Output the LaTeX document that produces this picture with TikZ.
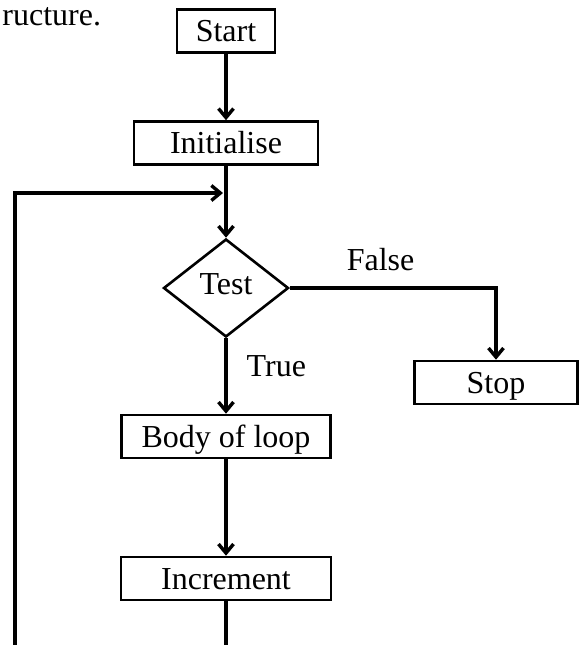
\documentclass[tikz,border=0pt]{standalone}
\usepackage{fontspec}
\setmainfont{Liberation Serif}
\usetikzlibrary{shapes.geometric}
\usetikzlibrary{arrows.meta}

\begin{document}
\begin{tikzpicture}[x=0.5pt, y=-0.5pt,
  txt/.style={inner sep=0pt, text height=10.6pt, text depth=0pt, font=\fontsize{16}{18}\selectfont},
  box/.style={txt, draw, line width=1.3pt, minimum height=21.5pt},
  decide/.style={draw, diamond, line width=1.3pt, inner sep=0pt, minimum width=62.5pt, minimum height=49pt},
  flow/.style={line width=1.7pt, -{Straight Barb[length=4.5pt, width=7.5pt]}}]
  \useasboundingbox (0,0) rectangle (580,645);
  \clip (0,0) rectangle (580,645);

  \node [txt, anchor=base west] (Prev) at (2,25) {ructure.};

  \node [box, minimum width=49pt] (Start) at (226,31) {Start};
  \node [box, minimum width=92pt] (Init) at (226,143) {Initialise};
  \node [decide, label={[txt, yshift=2.25pt]center:Test}] (Test) at (226,288) {};
  \node [box, minimum width=81.5pt] (Stop) at (496,382.5) {Stop};
  \node [box, minimum width=104.5pt] (Body) at (226,436.5) {Body of loop};
  \node [box, minimum width=105pt] (Inc) at (226,578.5) {Increment};

  \coordinate (Join) at (226,193);
  \coordinate (Corner) at (15,193);
  \coordinate (Low) at (15,665);

  \draw [flow] (Start) -- (Init);
  \draw [flow] (Init) -- (Test);
  \draw [flow] (Test.east) -| node [txt, pos=0.22, above=7.7pt] {False} (Stop.north);
  \draw [flow] (Test) -- node [txt, pos=0.36, right=9.5pt] {True} (Body);
  \draw [flow] (Body) -- (Inc);
  \draw [flow, shorten >=1.5pt] (Inc) -- (Inc |- Low) -| (Corner) -- (Join);
\end{tikzpicture}
\end{document}
